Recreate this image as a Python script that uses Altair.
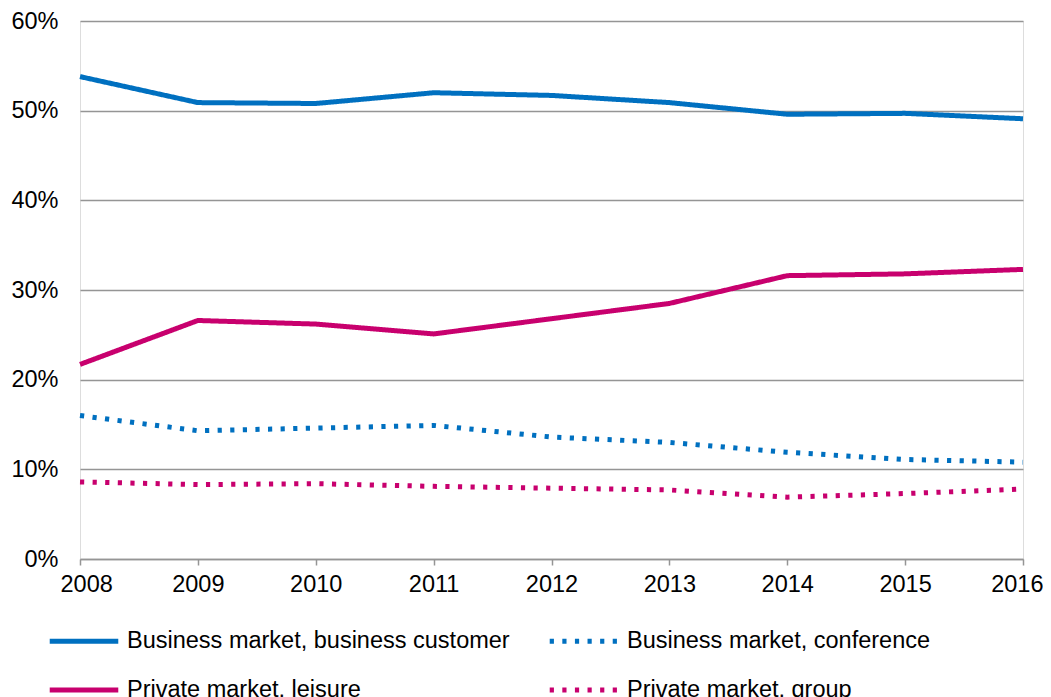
import altair as alt
import pandas as pd

years = [2008, 2009, 2010, 2011, 2012, 2013, 2014, 2015, 2016]
series_names = [
    "Business market, business customer",
    "Business market, conference",
    "Private market, leisure",
    "Private market, group",
]
business_customer = [53.8, 50.9, 50.8, 52.0, 51.7, 50.9, 49.6, 49.7, 49.1]
conference = [16.0, 14.3, 14.6, 14.9, 13.6, 13.0, 11.9, 11.1, 10.8]
leisure = [21.7, 26.6, 26.2, 25.1, 26.8, 28.5, 31.6, 31.8, 32.3]
group = [8.6, 8.3, 8.4, 8.1, 7.9, 7.7, 6.9, 7.3, 7.8]

colors = ["#0070C0", "#0070C0", "#C8006E", "#C8006E"]
dashes = [[1, 0], [4.2, 8.4], [1, 0], [4.2, 8.4]]

rows = []
for name, vals in zip(series_names, [business_customer, conference, leisure, group]):
    for y, v in zip(years, vals):
        rows.append({"year": y, "share": v / 100.0, "series": name})
df = pd.DataFrame(rows)

FONT = "Liberation Sans"
FS = 23.5

legend = alt.Legend(
    title=None,
    orient="none",
    legendX=-33,
    legendY=583,
    columns=2,
    direction="horizontal",
    symbolType="stroke",
    symbolSize=4700,
    symbolStrokeWidth=5,
    labelFontSize=FS,
    labelFont=FONT,
    labelColor="#000000",
    labelOffset=6,
    labelLimit=600,
    columnPadding=29,
    rowPadding=-28.6,
)

chart = (
    alt.Chart(df)
    .mark_line(strokeWidth=5, strokeCap="butt")
    .encode(
        x=alt.X(
            "year:Q",
            scale=alt.Scale(domain=[2008, 2016], nice=False, zero=False),
            axis=alt.Axis(
                title=None,
                values=years,
                format="d",
                grid=False,
                labelFlush=True,
                labelFlushOffset=20,
                domainColor="#959595",
                domainWidth=1.5,
                tickColor="#959595",
                tickWidth=1.5,
                tickSize=6,
                labelFontSize=FS,
                labelFont=FONT,
                labelColor="#000000",
                labelPadding=7,
            ),
        ),
        y=alt.Y(
            "share:Q",
            scale=alt.Scale(domain=[0, 0.6], nice=False),
            axis=alt.Axis(
                title=None,
                values=[0, 0.1, 0.2, 0.3, 0.4, 0.5, 0.6],
                format=".0%",
                domain=False,
                ticks=False,
                gridColor="#959595",
                gridWidth=1.5,
                labelFontSize=FS,
                labelFont=FONT,
                labelColor="#000000",
                labelPadding=22,
            ),
        ),
        color=alt.Color(
            "series:N",
            scale=alt.Scale(domain=series_names, range=colors),
            legend=legend,
        ),
        strokeDash=alt.StrokeDash(
            "series:N",
            scale=alt.Scale(domain=series_names, range=dashes),
            legend=legend,
        ),
    )
    .properties(
        width=943,
        height=538,
        autosize=alt.AutoSizeParams(type="none"),
        padding={"left": 72, "top": 13, "right": 20, "bottom": 150},
    )
    .configure_view(stroke=None)
    .configure(font=FONT)
)

chart.save("out.html", embed_options={"renderer": "svg", "actions": False})
